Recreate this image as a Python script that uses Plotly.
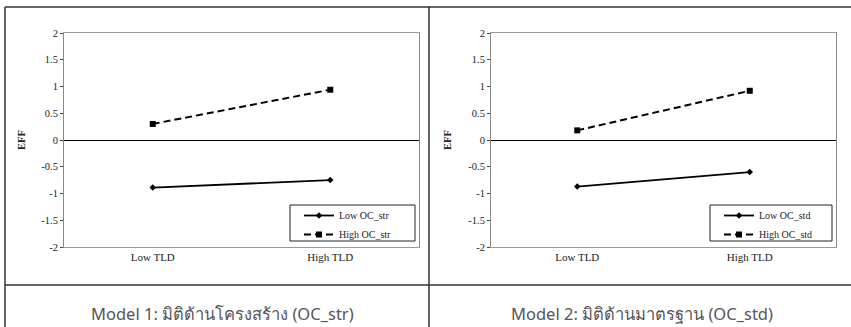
import plotly.graph_objects as go

W, H = 851, 327

categories = ["Low TLD", "High TLD"]
m1_low = [-0.89, -0.75]
m1_high = [0.30, 0.94]
m2_low = [-0.87, -0.60]
m2_high = [0.18, 0.92]
y_tick_vals = [2, 1.5, 1, 0.5, 0, -0.5, -1, -1.5, -2]
y_tick_text = ["2", "1.5", "1", "0.5", "0", "-0.5", "-1", "-1.5", "-2"]
names1 = ["Low OC_str", "High OC_str"]
names2 = ["Low OC_std", "High OC_std"]
captions = ["Model 1: มิติด้านโครงสร้าง (OC_str)", "Model 2: มิติด้านมาตรฐาน (OC_std)"]
y_title = "EFF"

SERIF = "Liberation Serif, Times New Roman, serif"

def px_x(v):
    return v / W

def px_y(v):
    return 1 - v / H

fig = go.Figure()

panels = [
    (m1_low, m1_high, names1, "x", "y", "legend"),
    (m2_low, m2_high, names2, "x2", "y2", "legend2"),
]
for low, high, names, xa, ya, lg in panels:
    fig.add_trace(go.Scatter(
        x=categories, y=low, name=names[0], xaxis=xa, yaxis=ya, legend=lg,
        mode="lines+markers", line=dict(color="black", width=1.8),
        marker=dict(symbol="diamond", size=5, color="black")))
    fig.add_trace(go.Scatter(
        x=categories, y=high, name=names[1], xaxis=xa, yaxis=ya, legend=lg,
        mode="lines+markers", line=dict(color="black", width=2, dash="7px,4px"),
        marker=dict(symbol="square", size=6, color="black")))

plot_x = [(64, 419), (491, 836)]
plot_y = (33, 247)

def xaxis(dom, anchor):
    return dict(domain=[px_x(dom[0]), px_x(dom[1])], type="category",
                range=[-0.5, 1.5], showgrid=False, zeroline=False,
                showline=True, mirror=True, linecolor="#999", linewidth=1,
                ticks="", tickfont=dict(family=SERIF, size=11, color="#222"),
                anchor=anchor, fixedrange=True, automargin=False)

def yaxis(anchor):
    return dict(domain=[px_y(plot_y[1]), px_y(plot_y[0])], range=[-2, 2],
                tickvals=y_tick_vals, ticktext=y_tick_text,
                showgrid=False, zeroline=True, zerolinecolor="black", zerolinewidth=1,
                showline=True, mirror=True, linecolor="#888", linewidth=1,
                ticks="outside", ticklen=3, tickcolor="#444",
                tickfont=dict(family=SERIF, size=10.5, color="#222"),
                anchor=anchor, fixedrange=True, automargin=False)

shapes = []
annotations = []
line_style = dict(color="#333", width=1.5)
# table borders
shapes.append(dict(type="line", xref="paper", yref="paper", x0=px_x(5), x1=1, y0=px_y(7), y1=px_y(7), line=line_style))
shapes.append(dict(type="line", xref="paper", yref="paper", x0=px_x(5), x1=px_x(5), y0=px_y(7), y1=0, line=line_style))
shapes.append(dict(type="line", xref="paper", yref="paper", x0=px_x(429), x1=px_x(429), y0=px_y(7), y1=0, line=line_style))
shapes.append(dict(type="line", xref="paper", yref="paper", x0=px_x(5), x1=1, y0=px_y(285), y1=px_y(285), line=line_style))

legend_boxes = [(290, 415), (710, 832)]
for i, (lx0, lx1) in enumerate(legend_boxes):
    shapes.append(dict(type="rect", xref="paper", yref="paper",
                       x0=px_x(lx0), x1=px_x(lx1), y0=px_y(241), y1=px_y(205),
                       line=dict(color="#222", width=1), fillcolor="white", layer="below"))

cap_x = [222, 642]
for i in range(2):
    annotations.append(dict(text=captions[i], x=px_x(cap_x[i]), y=px_y(313),
                            xref="paper", yref="paper", showarrow=False,
                            xanchor="center", yanchor="middle",
                            font=dict(family="Noto Sans, DejaVu Sans, sans-serif", size=16.5, color="#555")))
    annotations.append(dict(text="<b>%s</b>" % y_title, x=px_x([22, 448][i]), y=px_y(140),
                            xref="paper", yref="paper", showarrow=False, textangle=-90,
                            xanchor="center", yanchor="middle",
                            font=dict(family=SERIF, size=10.5, color="#222")))

legend_common = dict(bgcolor="rgba(0,0,0,0)", borderwidth=0,
                     font=dict(family=SERIF, size=10, color="#222"),
                     xanchor="left", yanchor="top", tracegroupgap=0, itemwidth=30)

fig.update_layout(
    width=W, height=H, margin=dict(l=0, r=0, t=0, b=0, autoexpand=False),
    paper_bgcolor="white", plot_bgcolor="white",
    xaxis=xaxis(plot_x[0], "y"), yaxis=yaxis("x"),
    xaxis2=xaxis(plot_x[1], "y2"), yaxis2=yaxis("x2"),
    shapes=shapes, annotations=annotations,
    legend=dict(legend_common, x=px_x(299), y=px_y(201)),
    legend2=dict(legend_common, x=px_x(719), y=px_y(201)),
    showlegend=True,
)

fig.write_html("out.html", config={"displayModeBar": False},
               post_script="document.body.style.margin='0';document.body.style.overflow='hidden';")
